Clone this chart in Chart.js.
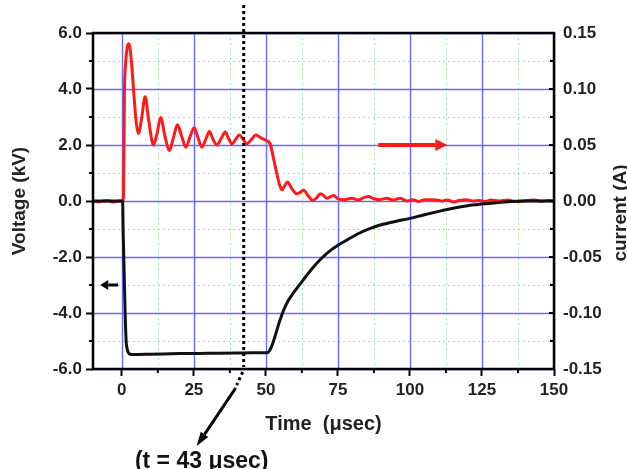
<!DOCTYPE html>
<html>
<head>
<meta charset="utf-8">
<script src="https://cdn.jsdelivr.net/npm/chart.js@4/dist/chart.umd.min.js"></script>
<style>
html,body{margin:0;padding:0;background:#fff;}
#wrap{width:627px;height:469px;position:relative;}
</style>
</head>
<body>
<div id="wrap"><canvas id="c" width="627" height="469"></canvas></div>
<script>
// ---- data ----
const voltageTime = [-10,-5,0,0.3,0.45,0.8,1.15,1.5,1.9,2.5,3.5,10,20,30,40,45,50,50.5,51.5,52.5,53.5,54.5,55.5,56.5,58,60,62,64,66,69,72,75,78,82,86,90,95,100,105,110,115,120,125,130,135,140,145,150];
const voltageKV   = [0,0,0,0,-1.0,-2.5,-4.0,-5.0,-5.3,-5.45,-5.48,-5.47,-5.45,-5.44,-5.43,-5.42,-5.42,-5.42,-5.3,-5.05,-4.72,-4.38,-4.08,-3.82,-3.52,-3.22,-2.95,-2.68,-2.42,-2.08,-1.8,-1.58,-1.4,-1.17,-0.99,-0.85,-0.73,-0.62,-0.49,-0.37,-0.26,-0.17,-0.11,-0.06,-0.02,0,0,0];

const currentTime = [-10,-8,-5,-3,-1,0.3,0.6,0.9,1.3,1.8,2.3,2.8,3.4,4.2,5.0,5.8,6.8,8.1,9.3,11.0,12.2,13.5,15.0,16.5,18.0,19.3,20.8,22.2,23.7,25.1,26.5,27.8,29.1,30.4,31.7,33.0,34.5,35.9,37.0,38.2,39.5,40.8,42.1,43.4,45.0,46.5,48.5,50.1,51.5,52.5,53.8,54.8,55.6,56.6,57.5,59.0,60.7,62.0,63.1,64.6,66.2,67.5,68.9,70.0,71.2,73.5,75.0,77.0,79.9,82.0,84.0,85.6,87.5,89.7,92.0,94.0,96.6,99.0,101,103,105,108.2,111,113,115,117,119.6,122,124,126,128,131,134,137,140,143,146,148,150];
const currentA    = [0,-0.0008,0.0005,-0.001,0,0,0.0075,0.095,0.1225,0.136,0.1405,0.1375,0.1225,0.095,0.07,0.060,0.0725,0.093,0.0725,0.050,0.060,0.0745,0.0575,0.045,0.0575,0.068,0.0575,0.048,0.0575,0.0655,0.056,0.048,0.055,0.062,0.055,0.050,0.056,0.0615,0.056,0.051,0.055,0.059,0.055,0.051,0.055,0.059,0.056,0.054,0.051,0.040,0.0245,0.014,0.010,0.014,0.017,0.011,0.0065,0.008,0.0095,0.005,0.0005,0.0025,0.0065,0.005,0.0025,0.005,0.002,0.0012,0.0025,0.0008,0.003,0.004,0.002,0.0012,0.0025,0.0008,0.0025,0,0.0012,-0.0005,0.0012,0.0012,0,0.001,-0.0008,0.0005,0.0012,0,0.0005,-0.0005,0.0008,0,0.0008,-0.0005,0.0003,0.0008,-0.0003,0.0005,0];

const xTicks  = [0,25,50,75,100,125,150];
const xMinor  = [12.5,37.5,62.5,87.5,112.5,137.5];
const yTicks  = [-6,-4,-2,0,2,4,6];
const yMinor  = [-5,-3,-1,1,3,5];
const y2Ticks = [-0.15,-0.10,-0.05,0,0.05,0.10,0.15];
const y2Minor = [-0.125,-0.075,-0.025,0.025,0.075,0.125];

const markerTime  = 42.3;
const markerLabel = '(t = 43 \u03bcsec)';
const redArrow    = {from: 89, to: 113, current: 0.05};
const blackArrow  = {from: -1.3, to: -7.5, voltage: -3.0};

const FONT = "'Liberation Sans', Arial, sans-serif";

function arrow(ctx, x1, y1, x2, y2, w, hl, hw, color) {
  const ang = Math.atan2(y2 - y1, x2 - x1);
  const bx = x2 - hl * Math.cos(ang), by = y2 - hl * Math.sin(ang);
  ctx.save();
  ctx.strokeStyle = color; ctx.fillStyle = color; ctx.lineWidth = w; ctx.setLineDash([]);
  ctx.beginPath(); ctx.moveTo(x1, y1); ctx.lineTo(bx, by); ctx.stroke();
  ctx.beginPath();
  ctx.moveTo(x2, y2);
  ctx.lineTo(bx + hw / 2 * Math.sin(ang), by - hw / 2 * Math.cos(ang));
  ctx.lineTo(bx - hw / 2 * Math.sin(ang), by + hw / 2 * Math.cos(ang));
  ctx.closePath(); ctx.fill();
  ctx.restore();
}

const overlay = {
  id: 'overlay',
  beforeDatasetsDraw(chart) {
    const {ctx, chartArea: a, scales: {x, y}} = chart;
    ctx.save();
    // minor grid (green dotted)
    ctx.strokeStyle = 'rgba(120,215,120,0.7)';
    ctx.lineWidth = 1;
    ctx.setLineDash([2, 3]);
    xMinor.forEach(v => {
      const p = Math.round(x.getPixelForValue(v)) + 0.5;
      ctx.beginPath(); ctx.moveTo(p, a.top); ctx.lineTo(p, a.bottom); ctx.stroke();
    });
    yMinor.forEach(v => {
      const p = Math.round(y.getPixelForValue(v)) + 0.5;
      ctx.beginPath(); ctx.moveTo(a.left, p); ctx.lineTo(a.right, p); ctx.stroke();
    });
    // major grid (blue)
    ctx.setLineDash([]);
    ctx.strokeStyle = 'rgb(105,105,255)';
    ctx.lineWidth = 1.4;
    xTicks.forEach(v => {
      const p = Math.round(x.getPixelForValue(v)) + 0.5;
      ctx.beginPath(); ctx.moveTo(p, a.top); ctx.lineTo(p, a.bottom); ctx.stroke();
    });
    yTicks.forEach(v => {
      const p = Math.round(y.getPixelForValue(v)) + 0.5;
      ctx.beginPath(); ctx.moveTo(a.left, p); ctx.lineTo(a.right, p); ctx.stroke();
    });
    ctx.restore();
  },
  afterDatasetsDraw(chart) {
    const {ctx, chartArea: a, scales: {x, y, y2}} = chart;
    ctx.save();
    // frame
    ctx.strokeStyle = '#000';
    ctx.lineWidth = 2.5;
    ctx.strokeRect(a.left, a.top, a.right - a.left, a.bottom - a.top);
    // minor ticks
    ctx.lineWidth = 2;
    xMinor.forEach(v => {
      const p = x.getPixelForValue(v);
      ctx.beginPath(); ctx.moveTo(p, a.bottom); ctx.lineTo(p, a.bottom + 4); ctx.stroke();
    });
    yMinor.forEach(v => {
      const p = y.getPixelForValue(v);
      ctx.beginPath(); ctx.moveTo(a.left - 4, p); ctx.lineTo(a.left, p); ctx.stroke();
    });
    // right axis ticks (inward)
    y2Ticks.forEach(v => {
      const p = y2.getPixelForValue(v);
      ctx.beginPath(); ctx.moveTo(a.right - 5, p); ctx.lineTo(a.right + 1, p); ctx.stroke();
    });
    y2Minor.forEach(v => {
      const p = y2.getPixelForValue(v);
      ctx.beginPath(); ctx.moveTo(a.right - 4, p); ctx.lineTo(a.right, p); ctx.stroke();
    });
    // marker dotted line
    const mx = x.getPixelForValue(markerTime);
    ctx.lineWidth = 3;
    ctx.setLineDash([3, 3]);
    ctx.beginPath(); ctx.moveTo(mx, 5); ctx.lineTo(mx, a.bottom - 2); ctx.stroke();
    ctx.beginPath(); ctx.moveTo(mx - 1, a.bottom + 3); ctx.lineTo(mx - 7, a.bottom + 16); ctx.stroke();
    ctx.setLineDash([]);
    arrow(ctx, mx - 8, a.bottom + 19, mx - 47, a.bottom + 77, 3, 14, 9, '#000');
    ctx.fillStyle = '#111';
    ctx.font = 'bold 23px ' + FONT;
    ctx.textAlign = 'center'; ctx.textBaseline = 'alphabetic';
    ctx.fillText(markerLabel, mx - 42, 468);
    // red arrow -> current axis
    const ry = y2.getPixelForValue(redArrow.current);
    arrow(ctx, x.getPixelForValue(redArrow.from), ry, x.getPixelForValue(redArrow.to), ry, 4, 12, 12, '#ff1a1a');
    // black arrow <- voltage axis
    const by = y.getPixelForValue(blackArrow.voltage);
    arrow(ctx, x.getPixelForValue(blackArrow.from), by, x.getPixelForValue(blackArrow.to), by, 3, 8, 10, '#000');
    // right axis title
    ctx.save();
    ctx.translate(626, 213);
    ctx.rotate(-Math.PI / 2);
    ctx.font = 'bold 19px ' + FONT;
    ctx.fillStyle = '#222';
    ctx.textAlign = 'center'; ctx.textBaseline = 'alphabetic';
    ctx.fillText('current (A)', 0, 0);
    ctx.restore();
    ctx.restore();
  }
};

const tickFont = {family: FONT, size: 17, weight: 'bold'};

new Chart(document.getElementById('c'), {
  type: 'line',
  data: {
    datasets: [
      {
        label: 'Voltage',
        data: voltageTime.map((t, i) => ({x: t, y: voltageKV[i]})),
        yAxisID: 'y',
        borderColor: '#111',
        borderWidth: 3,
        pointRadius: 0,
        cubicInterpolationMode: 'monotone',
        fill: false
      },
      {
        label: 'Current',
        data: currentTime.map((t, i) => ({x: t, y: currentA[i]})),
        yAxisID: 'y2',
        borderColor: '#ff1a1a',
        borderWidth: 3,
        pointRadius: 0,
        cubicInterpolationMode: 'monotone',
        fill: false
      }
    ]
  },
  options: {
    responsive: false,
    animation: false,
    layout: {padding: {top: 33, left: 0, right: 0, bottom: 0}},
    plugins: {legend: {display: false}, tooltip: {enabled: false}},
    scales: {
      x: {
        type: 'linear',
        min: -10, max: 150,
        afterBuildTicks: s => { s.ticks = xTicks.map(v => ({value: v})); },
        afterFit: s => { s.height = 100; },
        ticks: {font: tickFont, color: '#222', padding: 4, maxRotation: 0, autoSkip: false,
                callback: v => String(v)},
        grid: {drawOnChartArea: false, tickColor: '#000', tickWidth: 2, tickLength: 7},
        border: {display: false},
        title: {display: true, text: 'Time  (\u03bcsec)', color: '#222',
                font: {family: FONT, size: 20, weight: 'bold'}, padding: {top: 0, bottom: 33}}
      },
      y: {
        position: 'left',
        min: -6, max: 6,
        afterBuildTicks: s => { s.ticks = yTicks.map(v => ({value: v})); },
        afterFit: s => { s.width = 93; },
        ticks: {font: tickFont, color: '#222', padding: 4, autoSkip: false,
                callback: v => Number(v).toFixed(1)},
        grid: {drawOnChartArea: false, tickColor: '#000', tickWidth: 2, tickLength: 7},
        border: {display: false},
        title: {display: true, text: 'Voltage (kV)', color: '#222',
                font: {family: FONT, size: 19, weight: 'bold'}, padding: {top: 8, bottom: 0}}
      },
      y2: {
        position: 'right',
        min: -0.15, max: 0.15,
        afterBuildTicks: s => { s.ticks = y2Ticks.map(v => ({value: v})); },
        afterFit: s => { s.width = 73; },
        ticks: {font: tickFont, color: '#222', padding: 9, autoSkip: false,
                callback: v => Number(v).toFixed(2)},
        grid: {drawOnChartArea: false, drawTicks: false},
        border: {display: false}
      }
    }
  },
  plugins: [overlay]
});
</script>
</body>
</html>
